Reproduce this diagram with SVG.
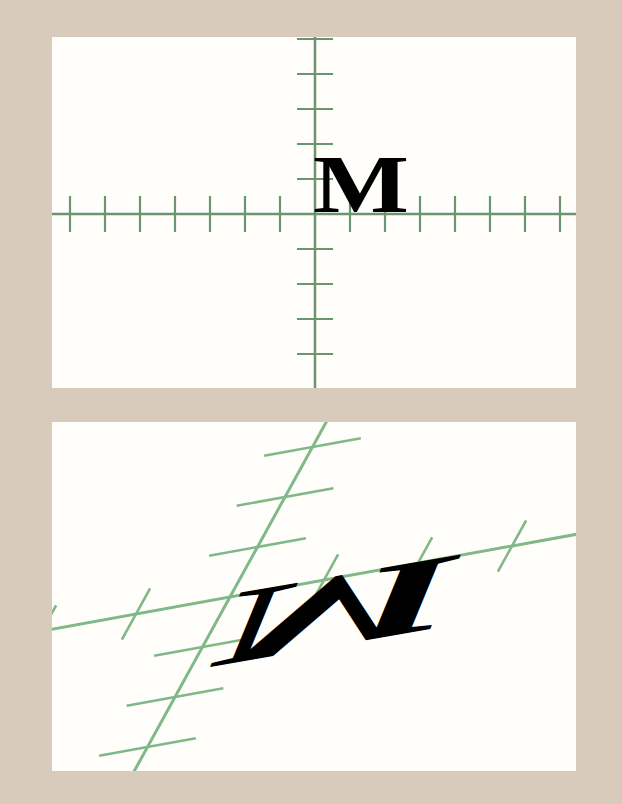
<svg xmlns="http://www.w3.org/2000/svg" width="622" height="804" viewBox="0 0 622 804">
<defs>
<style>
.panel{fill:#fffefb}
.axT{stroke:#6b9471;stroke-width:2.5;fill:none}
.tkT{stroke:#6b9471;stroke-width:2.2;fill:none}
.axB{stroke:#80b888;stroke-width:3;fill:none;vector-effect:non-scaling-stroke}
.tkB{stroke:#80b888;stroke-width:2.6;fill:none;vector-effect:non-scaling-stroke}
.m{font-family:"Liberation Serif","Times New Roman",serif;font-weight:bold;font-size:83px;fill:#000}
</style>
<clipPath id="clipBottom"><rect x="52" y="422" width="524" height="349"/></clipPath>
<g id="tplTicks">
<path d="M70 196V232M105 196V232M140 196V232M175 196V232M210 196V232M245 196V232M280 196V232M350 196V232M385 196V232M420 196V232M455 196V232M490 196V232M525 196V232M560 196V232"/>
<path d="M297 39H333M297 74H333M297 109H333M297 144H333M297 179H333M297 249H333M297 284H333M297 319H333M297 354H333"/>
</g>
</defs>
<rect width="622" height="804" fill="#d9cbbb"/>
<g id="topPanel">
<rect class="panel" x="52" y="37" width="524" height="351"/>
<g id="topAxes">
<line class="axT" x1="52" y1="214" x2="576" y2="214"/>
<line class="axT" x1="315" y1="37" x2="315" y2="388"/>
<use href="#tplTicks" class="tkT"/>
</g>
<text id="topM" class="m" x="313" y="212" textLength="96" lengthAdjust="spacingAndGlyphs">M</text>
</g>
<g id="bottomPanel">
<rect class="panel" x="52" y="422" width="524" height="349"/>
<g clip-path="url(#clipBottom)">
<g id="bottomAxes" transform="matrix(2.686,-0.486,0.786,-1.429,-784.3,1055.9)">
<line class="axB" x1="-200" y1="214" x2="800" y2="214"/>
<line class="axB" x1="315" y1="-300" x2="315" y2="700"/>
<path class="tkB" d="M70 196V232M105 196V232M140 196V232M175 196V232M210 196V232M245 196V232M280 196V232M350 196V232M385 196V232M420 196V232M455 196V232M490 196V232M525 196V232M560 196V232"/>
<path class="tkB" d="M297 39H333M297 74H333M297 109H333M297 144H333M297 179H333M297 249H333M297 284H333M297 319H333M297 354H333"/>
</g>
<text id="bottomM" class="m" x="313" y="212" textLength="96" lengthAdjust="spacingAndGlyphs" transform="matrix(2.41,-0.416,0.564,-1.37,-637.4,1014)">M</text>
</g>
</g>
</svg>
